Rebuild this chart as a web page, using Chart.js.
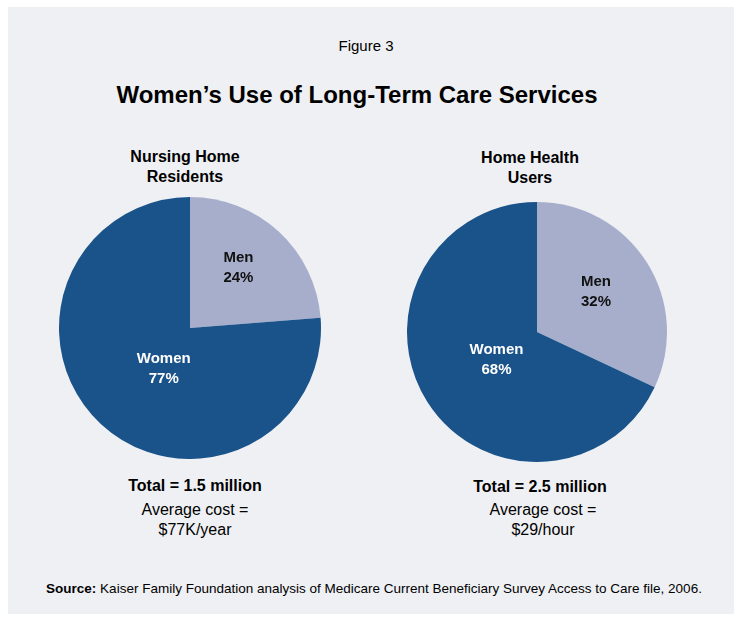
<!DOCTYPE html>
<html lang="en">
<head>
    <meta charset="UTF-8">
    <title>Women's Use of Long-Term Care Services</title>
    <script src="https://cdn.jsdelivr.net/npm/chart.js"></script>
    <style>
        body {
            margin: 0;
            background: #FFFFFF;
            font-family: 'Liberation Sans', Arial, sans-serif;
        }
        .page {
            position: relative;
            width: 734px;
            height: 618px;
            overflow: hidden;
        }
        .panel {
            position: absolute;
            left: 8px;
            top: 7px;
            width: 726px;
            height: 607px;
            background: #EFF0F4;
        }
        .txt {
            position: absolute;
            transform: translate(-50%, -50%);
            white-space: nowrap;
            color: #000;
            text-align: center;
        }
        .fig { font-size: 15px; left: 366px; top: 45px; }
        .main-title { font-size: 24px; font-weight: bold; left: 357px; top: 95px; }
        .pie-title { font-size: 16px; font-weight: bold; line-height: 20px; }
        .total { font-size: 16px; font-weight: bold; }
        .cost { font-size: 16px; line-height: 20px; }
        .source { font-size: 13.5px; left: 374px; top: 588px; }
        .pie-box { position: absolute; }
    </style>
</head>
<body>
<div class="page">
    <div class="panel"></div>

    <div class="txt fig">Figure 3</div>
    <div class="txt main-title">Women’s Use of Long-Term Care Services</div>

    <div class="txt pie-title" style="left:185px; top:167px;">Nursing Home<br>Residents</div>
    <div class="txt pie-title" style="left:530px; top:168px;">Home Health<br>Users</div>

    <div class="pie-box" style="left:59px; top:197px; width:262px; height:262px;">
        <canvas id="nursingPie" width="262" height="262"></canvas>
    </div>
    <div class="pie-box" style="left:407px; top:202px; width:260px; height:260px;">
        <canvas id="homeHealthPie" width="260" height="260"></canvas>
    </div>

    <div class="txt total" style="left:195px; top:486px;">Total = 1.5 million</div>
    <div class="txt cost" style="left:195px; top:520px;">Average cost =<br>$77K/year</div>

    <div class="txt total" style="left:540px; top:487px;">Total = 2.5 million</div>
    <div class="txt cost" style="left:543px; top:520px;">Average cost =<br>$29/hour</div>

    <div class="txt source"><b>Source:</b> Kaiser Family Foundation analysis of Medicare Current Beneficiary Survey Access to Care file, 2006.</div>
</div>

<script>
    // data
    const categories = ['Men', 'Women'];
    const nursingHomeShares = [24, 77];
    const homeHealthShares = [32, 68];

    const sliceColors = ['#A7AECB', '#1A5389'];
    const labelColors = ['#111111', '#FFFFFF'];

    // draws "Men / 24%" style labels inside each slice
    const sliceLabels = {
        id: 'sliceLabels',
        afterDatasetsDraw(chart, args, opts) {
            const ctx = chart.ctx;
            const meta = chart.getDatasetMeta(0);
            const values = chart.data.datasets[0].data;
            ctx.save();
            ctx.font = 'bold 15px "Liberation Sans", Arial, sans-serif';
            ctx.textAlign = 'center';
            ctx.textBaseline = 'middle';
            meta.data.forEach(function(arc, i) {
                const p = arc.getProps(['x', 'y', 'startAngle', 'endAngle', 'outerRadius'], true);
                const mid = (p.startAngle + p.endAngle) / 2 + opts.shift[i] * Math.PI / 180;
                const r = p.outerRadius * opts.radius[i];
                const x = p.x + Math.cos(mid) * r;
                const y = p.y + Math.sin(mid) * r;
                ctx.fillStyle = labelColors[i];
                ctx.fillText(chart.data.labels[i], x, y - 10);
                ctx.fillText(values[i] + '%', x, y + 10);
            });
            ctx.restore();
        }
    };

    function makePie(canvasId, values, labelRadius, labelShift) {
        return new Chart(document.getElementById(canvasId), {
            type: 'pie',
            data: {
                labels: categories,
                datasets: [{
                    data: values,
                    backgroundColor: sliceColors,
                    borderWidth: 0
                }]
            },
            options: {
                responsive: false,
                animation: false,
                layout: { padding: 0 },
                plugins: {
                    legend: { display: false },
                    tooltip: { enabled: false },
                    sliceLabels: { radius: labelRadius, shift: labelShift }
                }
            },
            plugins: [sliceLabels]
        });
    }

    makePie('nursingPie', nursingHomeShares, [0.59, 0.37], [-4, -10]);
    makePie('homeHealthPie', homeHealthShares, [0.55, 0.38], [-2, -2.5]);
</script>
</body>
</html>
